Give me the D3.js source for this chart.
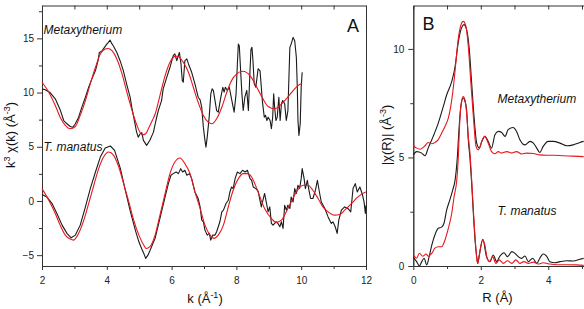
<!DOCTYPE html>
<html><head><meta charset="utf-8">
<script src="https://cdn.jsdelivr.net/npm/d3@7"></script>
<style>
body{margin:0;background:#fff;}
svg{display:block;font-family:"Liberation Sans",Arial,sans-serif;}
</style></head><body><div id="chart"></div>
<script>
// ---------- Panel A: k^3 chi(k) ----------
const kTicks = [2, 4, 6, 8, 10, 12];
const kMinorTicks = [3, 5, 7, 9, 11];
const kTopTicks = [2, 3, 4, 5, 6, 7, 8, 9, 10, 11, 12];
const chiKTicks = [-5, 0, 5, 10, 15];
const chiKMinorTicks = [-2.5, 2.5, 7.5, 12.5, 17.5];

// Metaxytherium (offset upper trace) – data
const metaKData = [[2.00,10.34],[2.10,10.25],[2.25,10.0],[2.41,9.42],[2.57,8.34],[2.67,7.42],[2.77,7.12],[2.87,6.87],[2.95,6.80],[3.03,7.12],[3.13,7.73],[3.23,8.65],[3.34,9.57],[3.44,10.49],[3.54,11.26],[3.65,12.02],[3.73,12.94],[3.77,13.7],[3.84,13.8],[3.89,14.0],[4.00,14.47],[4.05,14.63],[4.10,14.84],[4.15,14.53],[4.20,14.32],[4.31,13.7],[4.41,12.94],[4.51,12.02],[4.61,10.8],[4.72,9.57],[4.77,8.65],[4.82,7.89],[4.92,6.35],[4.97,5.89],[5.03,6.2],[5.08,6.3],[5.13,5.59],[5.23,5.13],[5.33,5.6],[5.44,6.35],[5.54,7.73],[5.59,8.34],[5.69,9.26],[5.74,10.34],[5.85,11.4],[5.95,12.33],[6.05,13.4],[6.10,13.56],[6.16,12.94],[6.24,13.7],[6.29,12.64],[6.33,11.1],[6.36,10.95],[6.41,12.94],[6.47,13.1],[6.52,12.64],[6.62,11.87],[6.72,10.8],[6.82,9.57],[6.88,9.33],[6.93,8.65],[6.98,6.81],[7.03,5.59],[7.06,4.97],[7.10,5.89],[7.16,7.73],[7.21,9.88],[7.25,10.34],[7.29,10.18],[7.34,9.26],[7.39,8.34],[7.44,8.19],[7.52,9.57],[7.58,10.49],[7.62,10.03],[7.66,10.49],[7.72,10.18],[7.78,10.49],[7.82,9.88],[7.89,8.8],[7.93,8.19],[7.99,9.88],[8.03,12.64],[8.06,14.47],[8.09,14.3],[8.13,12.02],[8.17,9.88],[8.21,8.34],[8.26,9.57],[8.32,10.2],[8.37,8.34],[8.42,12.0],[8.45,14.0],[8.48,14.17],[8.51,13.0],[8.55,10.8],[8.60,10.5],[8.67,12.2],[8.73,12.0],[8.80,9.26],[8.86,7.73],[8.90,7.9],[8.94,7.42],[8.98,7.73],[9.04,7.42],[9.08,6.66],[9.12,7.73],[9.15,9.88],[9.18,8.65],[9.22,7.42],[9.26,7.73],[9.31,9.57],[9.35,7.42],[9.39,8.96],[9.43,9.26],[9.49,8.96],[9.54,7.42],[9.59,8.34],[9.65,14.17],[9.69,14.47],[9.75,15.09],[9.80,14.78],[9.85,13.25],[9.88,10.49],[9.90,7.42],[9.93,6.05],[9.97,7.12],[10.00,10.49],[10.03,11.87]];
// Metaxytherium – fit
const metaKFit = [[2.0,10.95],[2.21,10.03],[2.41,8.8],[2.56,7.73],[2.72,6.97],[2.87,6.66],[3.03,6.87],[3.18,7.89],[3.34,9.26],[3.49,10.8],[3.65,12.33],[3.80,13.56],[3.95,14.02],[4.03,14.07],[4.16,13.86],[4.31,13.1],[4.47,11.72],[4.62,10.03],[4.78,8.34],[4.93,6.97],[5.09,6.1],[5.2,6.2],[5.29,6.7],[5.40,7.4],[5.49,8.0],[5.64,9.72],[5.80,11.56],[5.95,12.79],[6.10,13.34],[6.19,13.35],[6.36,12.79],[6.52,11.87],[6.67,10.49],[6.82,9.1],[6.98,7.89],[7.13,7.27],[7.24,7.12],[7.39,7.58],[7.55,8.65],[7.70,10.0],[7.85,11.1],[8.01,11.72],[8.20,11.96],[8.42,11.56],[8.63,10.49],[8.82,9.42],[8.98,8.71],[9.18,8.5],[9.34,8.8],[9.54,9.42],[9.75,10.18],[9.90,10.64],[10.03,10.86]];

// T. manatus – data
const manKData = [[2.00,0.6],[2.15,0.37],[2.31,-0.24],[2.46,-1.15],[2.62,-2.23],[2.77,-2.99],[2.90,-3.4],[3.03,-3.15],[3.18,-2.23],[3.34,-0.55],[3.49,1.14],[3.65,2.67],[3.80,4.05],[3.95,4.88],[4.11,5.07],[4.24,4.67],[4.42,2.98],[4.57,0.99],[4.73,-1.0],[4.88,-2.69],[4.99,-3.77],[5.09,-4.5],[5.15,-4.9],[5.20,-5.3],[5.27,-5.0],[5.33,-4.6],[5.49,-3.45],[5.64,-1.61],[5.80,0.37],[5.90,1.6],[5.98,2.37],[6.05,2.52],[6.14,2.67],[6.21,2.52],[6.28,2.98],[6.34,2.67],[6.41,2.83],[6.47,2.37],[6.55,2.52],[6.62,2.06],[6.72,0.83],[6.82,0.23],[6.88,-0.55],[6.93,-1.77],[6.98,-1.92],[7.03,-2.69],[7.10,-3.15],[7.16,-2.99],[7.21,-3.61],[7.27,-3.15],[7.34,-3.15],[7.39,-2.84],[7.49,-1.92],[7.55,-1.0],[7.60,-0.85],[7.68,-0.24],[7.75,0.07],[7.80,0.83],[7.85,1.29],[7.90,1.14],[7.96,2.06],[8.03,2.67],[8.11,2.52],[8.19,2.83],[8.27,2.67],[8.34,2.83],[8.42,2.06],[8.47,1.91],[8.52,1.29],[8.60,1.14],[8.67,0.9],[8.77,-0.55],[8.87,0.69],[8.98,-1.0],[9.03,-0.55],[9.08,-2.07],[9.13,-2.23],[9.23,-1.92],[9.28,-2.07],[9.34,-2.38],[9.39,-1.92],[9.44,-2.53],[9.49,-0.39],[9.54,-0.85],[9.59,-0.39],[9.65,-0.69],[9.69,0.37],[9.75,-0.09],[9.80,1.14],[9.85,0.69],[9.90,1.45],[9.95,1.14],[10.00,2.06],[10.03,2.98],[10.09,2.06],[10.13,1.14],[10.19,1.91],[10.23,1.14],[10.29,0.23],[10.36,0.23],[10.44,0.99],[10.50,1.91],[10.57,0.69],[10.62,-0.09],[10.73,-0.69],[10.83,-1.47],[10.93,-2.07],[10.98,-1.92],[11.05,-2.38],[11.11,-2.99],[11.16,-1.77],[11.24,-0.85],[11.34,-0.55],[11.44,-0.69],[11.53,-1.0],[11.60,1.14],[11.67,1.6],[11.73,0.83],[11.81,1.29],[11.88,0.69],[11.94,-0.09],[11.98,-1.15],[12.00,-0.39]];
// T. manatus – fit
const manKFit = [[2.0,1.14],[2.21,0.07],[2.41,-1.15],[2.56,-2.23],[2.72,-3.15],[2.87,-3.52],[2.98,-3.61],[3.13,-2.99],[3.29,-1.77],[3.44,-0.24],[3.60,1.45],[3.75,2.98],[3.90,4.05],[4.06,4.51],[4.21,4.21],[4.37,3.13],[4.52,1.6],[4.68,-0.09],[4.83,-1.77],[4.99,-3.15],[5.14,-4.07],[5.22,-4.38],[5.33,-4.22],[5.49,-3.15],[5.64,-1.31],[5.80,0.69],[5.95,2.52],[6.10,3.59],[6.26,3.96],[6.41,3.44],[6.57,2.52],[6.72,0.83],[6.88,-0.69],[7.03,-2.23],[7.19,-3.15],[7.31,-3.45],[7.44,-3.15],[7.60,-2.23],[7.75,-0.55],[7.90,0.99],[8.06,2.06],[8.21,2.52],[8.34,2.52],[8.47,2.21],[8.63,1.14],[8.87,-0.69],[9.08,-1.61],[9.23,-1.98],[9.39,-1.77],[9.54,-1.0],[9.69,-0.09],[9.85,0.83],[10.06,1.45],[10.21,1.45],[10.36,0.99],[10.52,0.23],[10.67,-0.55],[10.83,-1.0],[11.03,-1.31],[11.19,-1.25],[11.34,-0.85],[11.55,-0.24],[11.75,0.37],[11.96,0.78],[12.0,0.82]];

// ---------- Panel B: |chi(R)| ----------
const rTicks = [0, 2, 4];
const rMinorTicks = [1, 3, 5];
const rTopTicks = [0, 1, 2, 3, 4, 5];
const chiRTicks = [0, 5, 10];
const chiRMinorTicks = [2.5, 7.5];

const metaRData = [[0,5.12],[0.10,5.27],[0.25,5.2],[0.35,5.08],[0.44,5.43],[0.59,5.97],[0.74,6.58],[0.89,7.35],[0.99,7.89],[1.14,8.5],[1.24,9.2],[1.33,10.28],[1.43,10.97],[1.50,11.12],[1.58,10.89],[1.66,9.97],[1.73,8.43],[1.80,6.89],[1.88,5.66],[1.96,5.43],[2.03,5.74],[2.12,5.97],[2.22,5.74],[2.32,5.43],[2.42,6.05],[2.52,6.2],[2.62,6.15],[2.72,5.97],[2.81,6.28],[2.96,6.38],[3.06,6.2],[3.16,5.82],[3.31,5.58],[3.46,5.74],[3.56,5.66],[3.66,5.43],[3.75,5.23],[3.85,5.51],[4.00,5.74],[4.15,5.74],[4.35,5.66],[4.55,5.54],[4.74,5.58],[4.94,5.69],[5.05,5.74]];
const metaRFit = [[0,5.54],[0.10,5.43],[0.20,5.38],[0.35,5.54],[0.44,5.69],[0.55,5.63],[0.64,5.69],[0.74,5.82],[0.84,6.12],[0.94,6.43],[1.04,6.82],[1.11,7.35],[1.19,8.27],[1.27,9.51],[1.33,10.43],[1.40,11.04],[1.48,11.27],[1.56,11.04],[1.63,10.12],[1.70,8.58],[1.78,6.89],[1.86,5.51],[1.93,5.35],[2.03,5.74],[2.12,5.97],[2.22,5.66],[2.32,5.27],[2.42,5.17],[2.52,5.27],[2.62,5.2],[2.77,5.27],[2.92,5.2],[3.06,5.27],[3.21,5.16],[3.36,5.2],[3.56,5.18],[3.75,5.12],[3.95,5.1],[4.15,5.1],[4.44,5.08],[4.74,5.06],[5.05,5.04]];
const manRData = [[0,0.4],[0.10,0.2],[0.18,0],[0.25,0.2],[0.32,0.36],[0.40,0.05],[0.47,0.43],[0.55,0.97],[0.64,1.43],[0.74,1.74],[0.84,1.79],[0.91,1.97],[0.99,2.58],[1.09,3.08],[1.17,3.51],[1.24,3.97],[1.30,4.89],[1.36,6.43],[1.41,7.35],[1.48,7.74],[1.53,7.6],[1.58,7.2],[1.63,5.82],[1.68,4.97],[1.73,3.82],[1.78,2.43],[1.83,1.2],[1.88,0.43],[1.91,0.12],[1.95,0.43],[2.06,1.23],[2.17,0.43],[2.27,0.2],[2.37,0.51],[2.47,0.2],[2.57,0.46],[2.69,0.61],[2.79,0.43],[2.92,0.66],[3.04,0.55],[3.11,0.43],[3.21,0.35],[3.31,0.46],[3.41,0.2],[3.54,0.36],[3.66,0.12],[3.75,0.36],[3.85,0.55],[3.95,0.46],[4.05,0.2],[4.20,0.15],[4.35,0.2],[4.55,0.24],[4.74,0.23],[4.94,0.31],[5.05,0.35]];
const manRFit = [[0,0.51],[0.10,0.36],[0.18,0.59],[0.28,0.45],[0.38,0.55],[0.44,0.45],[0.55,0.59],[0.64,0.82],[0.74,0.89],[0.84,0.89],[0.94,1.2],[1.04,1.74],[1.14,2.43],[1.21,3.2],[1.29,3.97],[1.33,4.89],[1.38,6.74],[1.43,7.58],[1.48,7.81],[1.53,7.66],[1.58,7.05],[1.63,5.97],[1.68,5.2],[1.73,3.97],[1.78,2.58],[1.83,1.35],[1.88,0.36],[1.91,0.12],[1.98,0.74],[2.06,1.2],[2.12,0.97],[2.19,0.36],[2.27,0.2],[2.35,0.43],[2.45,0.12],[2.55,0.28],[2.67,0.12],[2.79,0.24],[2.92,0.12],[3.04,0.28],[3.16,0.12],[3.28,0.2],[3.41,0.12],[3.56,0.18],[3.70,0.09],[3.85,0.15],[4.05,0.09],[4.25,0.06],[4.55,0.06],[4.84,0.05],[5.05,0.03]];

// ---------- drawing ----------
const W = 584, H = 309;
const svg = d3.select("#chart").append("svg").attr("width", W).attr("height", H);
svg.append("rect").attr("width", W).attr("height", H).attr("fill", "#fff");

const AXIS = "#333", BLACK = "#1a1a1a", RED = "#e8161d";
const intFmt = d3.format("d");
const xA = d3.scaleLinear().domain([2, 12]).range([42, 366]);
const yA = d3.scaleLinear().domain([-6, 18.03]).range([266, 5.5]);
const xB = d3.scaleLinear().domain([0, 5.06]).range([413.3, 584]);
const yB = d3.scaleLinear().domain([0, 12]).range([266, 5.5]);

function styleAxis(g) {
  g.select(".domain").attr("stroke", AXIS).attr("stroke-width", 1);
  g.selectAll(".tick line").attr("stroke", AXIS);
  g.selectAll(".tick text").attr("font-size", 10).attr("fill", "#222")
    .attr("font-family", '"Liberation Sans",Arial,sans-serif');
}
function addAxis(gen, tx, ty) {
  const g = svg.append("g").attr("transform", `translate(${tx},${ty})`).call(gen);
  styleAxis(g);
  return g;
}

// Panel A axes
addAxis(d3.axisBottom(xA).tickValues(kTicks).tickFormat(intFmt).tickSizeInner(4).tickSizeOuter(0).tickPadding(7), 0, 266);
addAxis(d3.axisBottom(xA).tickValues(kMinorTicks).tickSizeInner(3).tickSizeOuter(0).tickFormat(""), 0, 266);
addAxis(d3.axisTop(xA).tickValues(kTopTicks).tickSizeInner(-4).tickSizeOuter(0).tickFormat(""), 0, 5.5);
addAxis(d3.axisLeft(yA).tickValues(chiKTicks).tickFormat(intFmt).tickSizeInner(5).tickSizeOuter(0).tickPadding(3), 42, 0);
addAxis(d3.axisLeft(yA).tickValues(chiKMinorTicks).tickSizeInner(3).tickSizeOuter(0).tickFormat(""), 42, 0);
addAxis(d3.axisRight(yA).tickValues([]).tickSizeOuter(0), 366, 0);

// Panel B axes
addAxis(d3.axisBottom(xB).tickValues(rTicks).tickFormat(intFmt).tickSizeInner(4).tickSizeOuter(0).tickPadding(7), 0, 266);
addAxis(d3.axisBottom(xB).tickValues(rMinorTicks).tickSizeInner(3).tickSizeOuter(0).tickFormat(""), 0, 266);
addAxis(d3.axisTop(xB).tickValues(rTopTicks).tickSizeInner(-4).tickSizeOuter(0).tickFormat(""), 0, 5.5);
addAxis(d3.axisLeft(yB).tickValues(chiRTicks).tickFormat(intFmt).tickSizeInner(5).tickSizeOuter(0).tickPadding(4), 413.3, 0);
addAxis(d3.axisLeft(yB).tickValues(chiRMinorTicks).tickSizeInner(3).tickSizeOuter(0).tickFormat(""), 413.3, 0);

function drawLine(data, x, y, color, curve) {
  svg.append("path").datum(data)
    .attr("fill", "none").attr("stroke", color).attr("stroke-width", 1.1)
    .attr("stroke-linejoin", "round")
    .attr("d", d3.line().x(d => x(d[0])).y(d => y(d[1])).curve(curve));
}
drawLine(metaKData, xA, yA, BLACK, d3.curveLinear);
drawLine(manKData, xA, yA, BLACK, d3.curveLinear);
drawLine(metaKFit, xA, yA, RED, d3.curveMonotoneX);
drawLine(manKFit, xA, yA, RED, d3.curveMonotoneX);

drawLine(manRData, xB, yB, BLACK, d3.curveMonotoneX);
drawLine(manRFit, xB, yB, RED, d3.curveMonotoneX);
drawLine(metaRData, xB, yB, BLACK, d3.curveMonotoneX);
drawLine(metaRFit, xB, yB, RED, d3.curveMonotoneX);

// Texts
const FONT = '"Liberation Sans",Arial,sans-serif';
function txt(x, y, s, opts = {}) {
  return svg.append("text").attr("x", x).attr("y", y).text(s)
    .attr("font-family", FONT).attr("font-size", opts.size || 12)
    .attr("font-style", opts.italic ? "italic" : "normal")
    .attr("text-anchor", opts.anchor || "start").attr("fill", "#111");
}
txt(353, 31.5, "A", {size: 18, anchor: "middle"});
txt(422.5, 30, "B", {size: 18});
txt(43.5, 34, "Metaxytherium", {italic: true});
txt(43.5, 150.5, "T. manatus", {italic: true});
txt(497.5, 103, "Metaxytherium", {italic: true});
txt(497.5, 214.5, "T. manatus", {italic: true});

// axis titles with superscripts
function richText(x, y, parts, rotate) {
  const t = svg.append("text").attr("font-family", FONT).attr("font-size", 13)
    .attr("fill", "#111").attr("text-anchor", "middle")
    .attr("transform", rotate ? `translate(${x},${y}) rotate(-90)` : `translate(${x},${y})`);
  let raised = false;
  parts.forEach(p => {
    const ts = t.append("tspan").text(p[0]);
    if (p[1] && !raised) { ts.attr("dy", -5).attr("font-size", 9); raised = true; }
    else if (p[1] && raised) { ts.attr("font-size", 9); }
    else if (!p[1] && raised) { ts.attr("dy", 5); raised = false; }
  });
  return t;
}
richText(205, 303, [["k (Å"], ["-1", true], [")"]], false);
richText(497.5, 302, [["R (Å)"]], false);
richText(15, 135, [["k"], ["3", true], [" χ(k) (Å"], ["-3", true], [")"]], true);
richText(391, 135, [["|χ(R)| (Å"], ["-3", true], [")"]], true);
</script></body></html>
